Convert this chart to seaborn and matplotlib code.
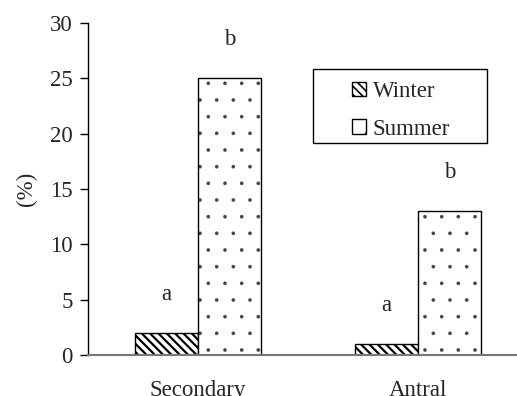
import matplotlib
matplotlib.use("Agg")
import matplotlib.pyplot as plt
import seaborn as sns
import pandas as pd
from matplotlib.patches import Patch, Rectangle
from matplotlib.legend_handler import HandlerPatch

categories = ["Secondary", "Antral"]
seasons = ["Winter", "Summer"]
winter = [2, 1]
summer = [25, 13]
letters_winter = ["a", "a"]
letters_summer = ["b", "b"]
y_ticks = [0, 5, 10, 15, 20, 25, 30]

df = pd.DataFrame({
    "cat": categories * 2,
    "season": ["Winter"] * len(categories) + ["Summer"] * len(categories),
    "val": winter + summer,
})

sns.set_style("white")
plt.rcParams["font.family"] = ["Liberation Serif", "DejaVu Serif"]
plt.rcParams["hatch.linewidth"] = 1.5
FS = 16.5

fig = plt.figure(figsize=(5.17, 3.96), dpi=100)
ax = fig.add_axes([88/517, 1-355/396, 440/517, 332/396])

sns.barplot(data=df, x="cat", y="val", hue="season", order=categories,
            hue_order=seasons, width=0.573, ax=ax, legend=False,
            edgecolor="black", linewidth=1.0,
            palette={"Winter": "white", "Summer": "white"}, saturation=1)

hatches = {"Winter": "\\\\\\\\", "Summer": "."}
hatch_lw = {"Winter": 1.6, "Summer": 0.2}
hatch_col = {"Winter": "black", "Summer": "#444444"}
for cont, s in zip(ax.containers, seasons):
    for p in cont:
        p.set_hatch(hatches[s])
        p.set_facecolor("white")
        p.set_edgecolor("black")
        if hasattr(p, "set_hatch_linewidth"):
            p.set_hatch_linewidth(hatch_lw[s])
        p._hatch_color = matplotlib.colors.to_rgba(hatch_col[s])

# significance letters
for cont, letters in zip(ax.containers, [letters_winter, letters_summer]):
    for p, lt in zip(cont, letters):
        x = p.get_x() + p.get_width() / 2
        ax.text(x, p.get_height() + 2.55, lt, ha="center", va="bottom", fontsize=FS)

ax.set_ylim(0, 30)
ax.set_xlim(-0.5, 1.5)
ax.set_yticks(y_ticks)
ax.set_yticklabels([str(t) for t in y_ticks], fontsize=FS)
ax.set_xticks(range(len(categories)))
ax.set_xticklabels(categories, fontsize=FS)
ax.tick_params(axis="y", direction="out", length=6, width=1, color="black", left=True, pad=5)
ax.tick_params(axis="x", length=0, pad=18)
ax.set_xlabel("")
ax.set_ylabel("(%)", fontsize=FS, labelpad=9)

for side in ["top", "right"]:
    ax.spines[side].set_visible(False)
ax.spines["left"].set_color("black")
ax.spines["left"].set_linewidth(1)
ax.spines["bottom"].set_color("#777777")
ax.spines["bottom"].set_linewidth(1.5)


def make_handle(legend, orig_handle, xdescent, ydescent, width, height, fontsize):
    r = Rectangle((-xdescent, -ydescent), width, height,
                  facecolor="white", edgecolor="black", hatch=orig_handle.get_hatch(),
                  linewidth=1)
    return r


handles = [Patch(facecolor="white", edgecolor="black", hatch=hatches[s], label=s) for s in seasons]
leg = ax.legend(handles=handles, loc="upper left",
                bbox_to_anchor=((352-88)/440, (355-81)/332),
                frameon=False, fontsize=FS, handlelength=0.6, handleheight=0.6,
                handletextpad=0.3, borderpad=0, labelspacing=0.72,
                borderaxespad=0,
                handler_map={Patch: HandlerPatch(patch_func=make_handle)})
for h, s in zip(leg.legend_handles, seasons):
    if hasattr(h, "set_hatch_linewidth"):
        h.set_hatch_linewidth(1.2 if s == "Winter" else 0.4)
    h._hatch_color = matplotlib.colors.to_rgba(hatch_col[s])

# legend frame
ax.add_patch(Rectangle(((313-88)/440, (355-143)/332), (487-313)/440, (143-69)/332,
                       transform=ax.transAxes, facecolor="none", edgecolor="black",
                       linewidth=1, clip_on=False, zorder=5))

fig.savefig("out.png", dpi=100)
